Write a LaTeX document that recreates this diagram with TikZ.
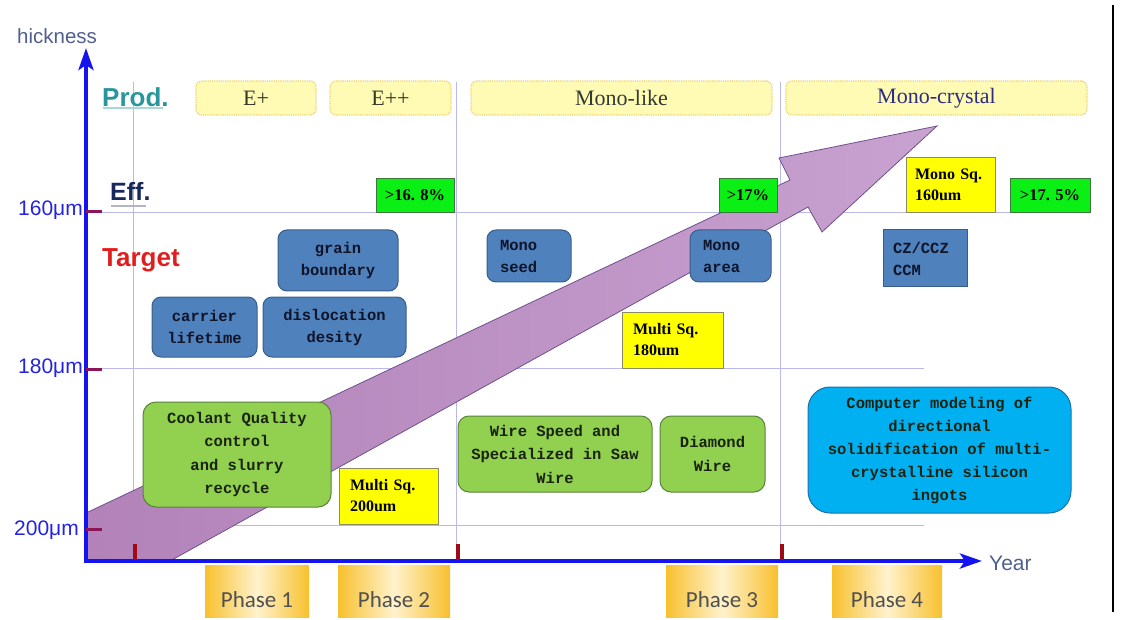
\documentclass[tikz,border=0pt]{standalone}
\usepackage{fontspec}
\setmainfont{Liberation Serif}
\setsansfont{Liberation Sans}
\newfontfamily\monof{Liberation Mono}
\newfontfamily\phasef{Carlito}
\usetikzlibrary{arrows.meta}
\definecolor{gridc}{RGB}{185,185,240}
\definecolor{axisblue}{RGB}{20,20,240}
\definecolor{ytickc}{RGB}{140,20,90}
\definecolor{xtickc}{RGB}{160,10,20}
\definecolor{prodfill}{RGB}{255,250,180}
\definecolor{prodline}{RGB}{235,210,120}
\definecolor{effgreen}{RGB}{10,240,20}
\definecolor{effline}{RGB}{60,120,60}
\definecolor{yelfill}{RGB}{255,255,0}
\definecolor{yelline}{RGB}{140,140,100}
\definecolor{bluefill}{RGB}{79,129,189}
\definecolor{blueline}{RGB}{56,93,138}
\definecolor{bluetext}{RGB}{15,20,40}
\definecolor{greenfill}{RGB}{146,208,80}
\definecolor{greenline}{RGB}{90,130,60}
\definecolor{greentext}{RGB}{25,35,15}
\definecolor{cyanfill}{RGB}{0,176,240}
\definecolor{cyanline}{RGB}{30,110,170}
\definecolor{phaseedge}{RGB}{247,192,45}
\definecolor{phasemid}{RGB}{255,242,205}
\definecolor{phasetext}{RGB}{80,80,80}
\definecolor{arrowfillA}{RGB}{178,130,185}
\definecolor{arrowfillB}{RGB}{200,162,208}
\definecolor{arrowline}{RGB}{110,80,140}
\definecolor{prodtext}{RGB}{40,150,155}
\definecolor{efftext}{RGB}{25,40,90}
\definecolor{targettext}{RGB}{225,30,30}
\definecolor{labelblue}{RGB}{35,35,225}
\definecolor{axistext}{RGB}{80,95,140}
\begin{document}
\begin{tikzpicture}[x=1pt,y=-1pt,
  gridline/.style={draw=gridc,line width=0.9pt},
  axisline/.style={draw=axisblue,line width=4pt,-{Stealth[length=22pt,width=15pt,inset=5pt]}},
  ytickmark/.style={draw=ytickc,line width=3pt},
  xtickmark/.style={draw=xtickc,line width=4.5pt},
  boxbase/.style={anchor=north west,inner sep=0pt,outer sep=0pt},
  prodbox/.style={boxbase,draw=prodline,densely dotted,line width=1.2pt,fill=prodfill,rounded corners=6pt,font=\fontsize{22}{24}\selectfont},
  effbox/.style={boxbase,draw=effline,fill=effgreen,line width=0.8pt,font=\bfseries\fontsize{16.5}{18}\selectfont},
  yelbox/.style={boxbase,draw=yelline,fill=yelfill,line width=0.8pt,align=left,inner xsep=11pt,font=\bfseries\fontsize{16}{21}\selectfont},
  bluebox/.style={boxbase,draw=blueline,fill=bluefill,line width=1pt,rounded corners=9pt,text=bluetext,align=center,font=\monof\bfseries\fontsize{15.5}{22}\selectfont},
  greenbox/.style={boxbase,draw=greenline,fill=greenfill,line width=1pt,rounded corners=13pt,text=greentext,align=center,font=\monof\bfseries\fontsize{15.5}{23.5}\selectfont},
  phasebox/.style={boxbase,left color=phaseedge,right color=phaseedge,middle color=phasemid,text=phasetext,text height=32pt,text depth=0pt,minimum height=52pt,font=\phasef\fontsize{23}{25}\selectfont},
  ticklabel/.style={anchor=east,text=labelblue,font=\sffamily\fontsize{21}{22}\selectfont,inner sep=0pt},
  rowlabel/.style={anchor=west,inner sep=0pt,font=\sffamily\bfseries\fontsize{26}{28}\selectfont}
]
\useasboundingbox (0,0) rectangle (1140,620);

% grid lines
\draw[gridline] (133,82) -- (133,561);
\draw[gridline] (456,82) -- (456,561);
\draw[gridline] (780,82) -- (780,561);
\draw[gridline] (102,212) -- (1010,212);
\draw[gridline] (102,368) -- (924,368);
\draw[gridline] (102,525) -- (924,525);

% big purple arrow
\path[left color=arrowfillA,right color=arrowfillB,draw=arrowline,line width=0.8pt]
  (86,513) -- (790,180) -- (779,158) -- (937,126) -- (822,232) -- (808,207) -- (170,561) -- (86,561) -- cycle;

% right border
\draw[black,line width=1.5pt] (1113,5) -- (1113,612);

% axes
\coordinate (O) at (86,561);
\coordinate (Ytop) at (86,48);
\coordinate (Xend) at (982,561);
\coordinate (Xstart) at (84,561);
\draw[axisline] (O) -- (Ytop);
\draw[axisline] (Xstart) -- (Xend);
\node[anchor=west,inner sep=0pt,text=axistext,font=\sffamily\fontsize{20.5}{22}\selectfont] (ylab) at (17,36) {hickness};
\node[anchor=west,inner sep=0pt,text=axistext,font=\sffamily\fontsize{21}{22}\selectfont] (xlab) at (989,563) {Year};

% y ticks
\draw[ytickmark] (86,212) -- (102,212);
\draw[ytickmark] (86,369) -- (102,369);
\draw[ytickmark] (86,529) -- (102,529);
\node[ticklabel] (t160) at (83,210) {160μm};
\node[ticklabel] (t180) at (83,368) {180μm};
\node[ticklabel] (t200) at (79,530) {200μm};

% x ticks
\draw[xtickmark] (135,544) -- (135,560);
\draw[xtickmark] (458,544) -- (458,560);
\draw[xtickmark] (782,544) -- (782,560);

% row labels
\draw[draw={rgb,255:red,170;green,215;blue,215},line width=2pt] (103,108) -- (163,108);
\draw[draw={rgb,255:red,180;green,180;blue,200},line width=1.5pt] (111,206) -- (146,206);
\node[rowlabel,text=prodtext] (prod) at (102,97) {Prod.};
\node[rowlabel,text=efftext,font=\sffamily\bfseries\fontsize{25}{28}\selectfont] (eff) at (110,191) {Eff.};
\node[rowlabel,text=targettext] (target) at (102,260) {Target};

% production boxes
\node[prodbox,minimum width=120pt,minimum height=34pt,text={rgb,255:red,55;green,55;blue,40}] (eplus) at (196,81) {E+};
\node[prodbox,minimum width=121pt,minimum height=34pt,text={rgb,255:red,55;green,55;blue,40}] (eplusplus) at (330,81) {E++};
\node[prodbox,minimum width=301pt,minimum height=34pt,text={rgb,255:red,50;green,60;blue,50}] (monolike) at (471,81) {Mono-like};
\node[prodbox,minimum width=301pt,minimum height=34pt,text={rgb,255:red,45;green,45;blue,130}] (monocrystal) at (786,81) {Mono-crystal};

% efficiency boxes
\node[effbox,minimum width=78pt,minimum height=34pt] (eff168) at (376,178) {>16. 8\%};
\node[effbox,minimum width=58pt,minimum height=34pt] (eff17) at (719,178) {>17\%};
\node[effbox,minimum width=80pt,minimum height=34pt] (eff175) at (1010,178) {>17. 5\%};
\node[yelbox,inner xsep=9pt,text width=71pt,minimum height=55pt] (monosq) at (906,157) {Mono Sq.\\160um};

% target boxes
\node[bluebox,minimum width=120pt,minimum height=61pt] (grain) at (278,230) {grain\\boundary};
\node[bluebox,minimum width=105pt,minimum height=60pt] (carrier) at (152,297) {carrier\\lifetime};
\node[bluebox,minimum width=143pt,minimum height=60pt] (disloc) at (263,297) {dislocation\\desity};
\node[bluebox,align=left,inner xsep=13pt,text width=58pt,minimum height=52pt] (monoseed) at (487,230) {Mono\\seed};
\node[bluebox,align=left,inner xsep=13pt,text width=55pt,minimum height=52pt] (monoarea) at (690,230) {Mono\\area};
\node[bluebox,rounded corners=0pt,align=left,inner xsep=10pt,text width=64pt,minimum height=57pt] (czccz) at (883,230) {CZ/CCZ\\CCM};

% multi square boxes
\node[yelbox,text width=79pt,minimum height=56pt] (multi180) at (622,312) {Multi Sq.\\180um};
\node[yelbox,text width=77pt,minimum height=56pt] (multi200) at (339,468) {Multi Sq.\\200um};

% process boxes
\node[greenbox,minimum width=188pt,minimum height=105pt] (coolant) at (143,402) {Coolant Quality\\control\\and slurry\\recycle};
\node[greenbox,rounded corners=11pt,minimum width=194pt,minimum height=76pt] (wirespeed) at (458,416) {Wire Speed and\\Specialized in Saw\\Wire};
\node[greenbox,rounded corners=11pt,minimum width=105pt,minimum height=76pt] (diamond) at (660,416) {Diamond\\Wire};
\node[greenbox,draw=cyanline,fill=cyanfill,rounded corners=22pt,minimum width=263pt,minimum height=126pt,font=\monof\bfseries\fontsize{15.5}{23}\selectfont] (model) at (808,387) {Computer modeling of\\directional\\solidification of multi-\\crystalline silicon\\ingots};

% phases
\node[phasebox,minimum width=104pt] (ph1) at (205,565) {Phase 1};
\node[phasebox,minimum width=112pt] (ph2) at (338,565) {Phase 2};
\node[phasebox,minimum width=112pt] (ph3) at (666,565) {Phase 3};
\node[phasebox,minimum width=110pt] (ph4) at (832,565) {Phase 4};
\end{tikzpicture}
\end{document}
